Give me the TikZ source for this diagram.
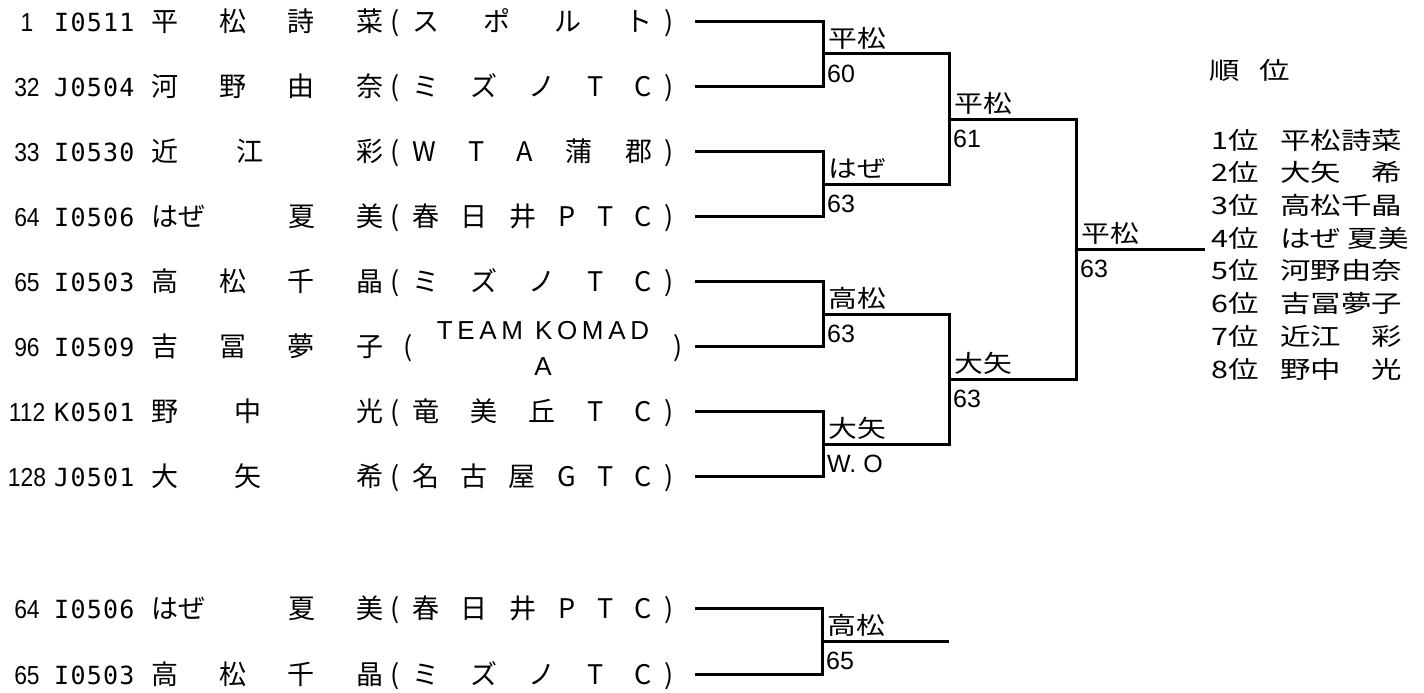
\documentclass[tikz,border=0pt]{standalone}
\usepackage{fontspec}
\setmainfont{Noto Sans CJK JP}
\newfontfamily\seedfont[FakeStretch=0.88]{Liberation Sans}
\newfontfamily\codefont[LetterSpace=5]{DejaVu Sans Mono}
\newfontfamily\latinfont{Liberation Sans}
\newfontfamily\teamfont[LetterSpace=18]{Liberation Sans}
\newfontfamily\widecjk[FakeStretch=1.2]{Noto Sans CJK JP}
\newfontfamily\rankcjk[FakeStretch=1.27]{Noto Sans CJK JP}
\usetikzlibrary{positioning}

\begin{document}
\begin{tikzpicture}[x=1pt, y=-1pt,
  txt/.style={inner sep=0pt, text height=23.5pt, text depth=3pt, font=\fontsize{27}{27}\selectfont},
  seed/.style={txt, font=\seedfont\fontsize{26}{26}\selectfont},
  code/.style={txt, anchor=west, font=\codefont\fontsize{25}{25}\selectfont},
  bline/.style={line width=3pt},
  winner/.style={inner sep=0pt, text depth=0pt, font=\widecjk\fontsize{24}{24}\selectfont},
  score/.style={inner sep=0pt, text height=18pt, font=\latinfont\fontsize{25}{25}\selectfont},
  rank/.style={inner sep=0pt, anchor=west, font=\rankcjk\fontsize{24}{24}\selectfont}]
\useasboundingbox (0,0) rectangle (1424,693);

\foreach \n/\y/\sd/\cd/\nm/\cl in {
  1/21.5/1/I0511/{平\hfill 松\hfill 詩\hfill 菜}/{ス\hfill ポ\hfill ル\hfill ト},
  2/86.5/32/J0504/{河\hfill 野\hfill 由\hfill 奈}/{ミ\hfill ズ\hfill ノ\hfill T\hfill C},
  3/151.5/33/I0530/{近\hspace{58pt}江\hfill 彩}/{W\hfill T\hfill A\hfill 蒲\hfill 郡},
  4/216.5/64/I0506/{はぜ\hfill 夏\hspace{41pt}美}/{春\hfill 日\hfill 井\hfill P\hfill T\hfill C},
  5/281.5/65/I0503/{高\hfill 松\hfill 千\hfill 晶}/{ミ\hfill ズ\hfill ノ\hfill T\hfill C},
  7/411.5/112/K0501/{野\hspace{56pt}中\hfill 光}/{竜\hfill 美\hfill 丘\hfill T\hfill C},
  8/476.5/128/J0501/{大\hspace{56pt}矢\hfill 希}/{名\hfill 古\hfill 屋\hfill G\hfill T\hfill C},
  9/608/64/I0506/{はぜ\hfill 夏\hspace{41pt}美}/{春\hfill 日\hfill 井\hfill P\hfill T\hfill C},
  10/674/65/I0503/{高\hfill 松\hfill 千\hfill 晶}/{ミ\hfill ズ\hfill ノ\hfill T\hfill C}}{
  \node[seed] (s\n) at (27,\y) {\sd};
  \node[code] (c\n) at (54,\y) {\cd};
  \node[txt, anchor=west] (n\n) at (151,\y) {\hbox to 232pt{\nm}};
  \node[txt] (o\n) at (395,\y) {(};
  \node[txt, anchor=west] (k\n) at (412,\y) {\hbox to 240pt{\cl}};
  \node[txt] (e\n) at (669,\y) {)};
  \coordinate (p\n) at (695,\y);
}
\node[seed] (s6) at (27,346.5) {96};
\node[code] (c6) at (54,346.5) {I0509};
\node[txt, anchor=west] (n6) at (151,346.5) {\hbox to 232pt{吉\hfill 冨\hfill 夢\hfill 子}};
\node[txt] (o6) at (408,346.5) {(};
\node[inner sep=0pt, align=center, font=\teamfont\fontsize{26}{36}\selectfont] (k6) at (543,348) {TEAM KOMAD\\A};
\node[txt] (e6) at (678,346.5) {)};
\coordinate (p6) at (695,346.5);

\coordinate (w1) at (823,54);
\coordinate (w2) at (823,184);
\coordinate (w3) at (823,314);
\coordinate (w4) at (823,444);
\coordinate (v1) at (949,119);
\coordinate (v2) at (949,379);
\coordinate (u1) at (1076,249);
\coordinate (fin) at (1205,249);
\coordinate (w5) at (822,641);
\coordinate (g5) at (949,641);

\draw[bline] (p1) -| (w1) |- (p2);
\draw[bline] (p3) -| (w2) |- (p4);
\draw[bline] (p5) -| (w3) |- (p6);
\draw[bline] (p7) -| (w4) |- (p8);
\draw[bline] (w1) -| (v1) |- (w2);
\draw[bline] (w3) -| (v2) |- (w4);
\draw[bline] (v1) -| (u1) |- (v2);
\draw[bline] (u1) -- (fin);
\draw[bline] (p9) -| (w5) |- (p10);
\draw[bline] (w5) -- (g5);

\foreach \j/\wn/\sc in {w1/平松/60, w2/はぜ/63, w3/高松/63, w4/大矢/W. O, v1/平松/61, v2/大矢/63, u1/平松/63, w5/高松/65}{
  \node[winner, above right=6pt and 5pt of \j] (l\j) {\wn};
  \node[score, below right=10pt and 4pt of \j] (r\j) {\sc};
}

\node[rank] (hd) at (1209,70) {順\hspace{20pt}位};
\foreach \k/\nm in {1/平松詩菜, 2/大矢　希, 3/高松千晶, 4/はぜ 夏美, 5/河野由奈, 6/吉冨夢子, 7/近江　彩, 8/野中　光}{
  \node[rank] (rk\k) at (1211,{140+32.7*(\k-1)}) {\k 位};
  \node[rank] (rn\k) at (1280,{140+32.7*(\k-1)}) {\nm};
}
\end{tikzpicture}
\end{document}
